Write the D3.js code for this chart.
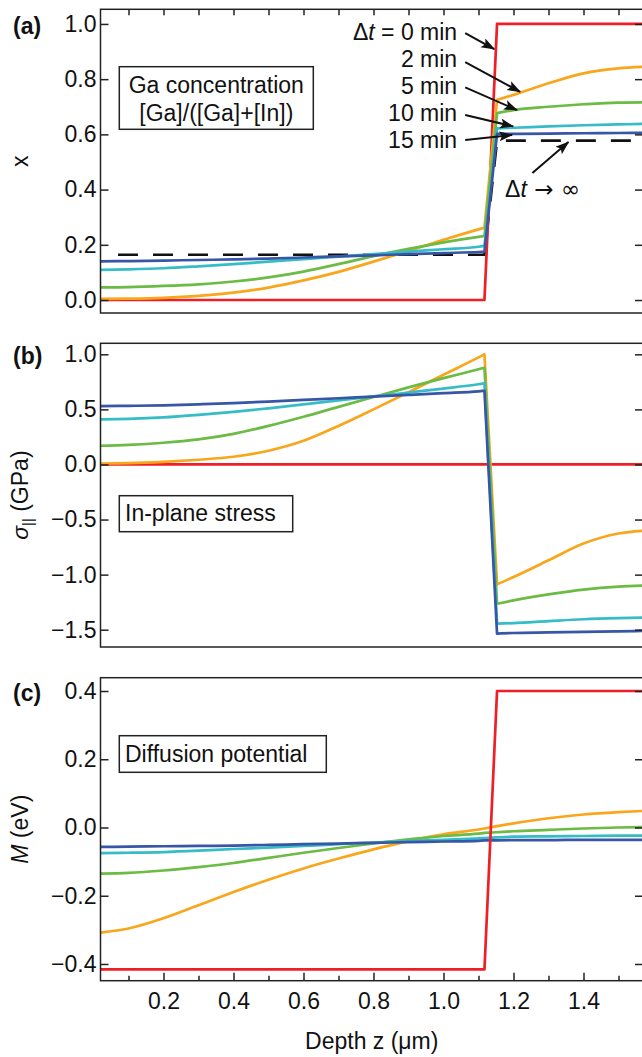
<!DOCTYPE html>
<html>
<head>
<meta charset="utf-8">
<title>Interdiffusion profiles</title>
<script src="https://d3js.org/d3.v7.min.js"></script>
<style>
  body { margin: 0; background: #fff; }
  svg text { font-family: "Liberation Sans", Arial, Helvetica, sans-serif; font-size: 23px; fill: #111; }
  .frame { fill: none; stroke: #222; stroke-width: 1.5; }
  .axis path { display: none; }
  .axis line { stroke: #222; stroke-width: 1.5; }
  .curve { fill: none; stroke-width: 2.7; stroke-linejoin: round; }
  .box rect { fill: #fff; stroke: #222; stroke-width: 1.5; }
  .arrow { stroke: #111; stroke-width: 2; }
</style>
</head>
<body>
<svg width="642" height="1057"></svg>
<script>
// depth grid in um; the interface sits between 1.117 and 1.153
var depth = [0.02, 0.1, 0.2, 0.3, 0.4, 0.5, 0.6, 0.7, 0.8, 0.9, 1.0, 1.1, 1.117, 1.153, 1.2, 1.3, 1.4, 1.5, 1.58];
var splitAt = 13;

// (a) Ga concentration x
var xT0  = [0,0,0,0,0,0,0,0,0,0,0,0,0, 1,1,1,1,1,1];
var xT2  = [0.004,0.005,0.008,0.015,0.027,0.045,0.071,0.102,0.139,0.178,0.218,0.256,0.262, 0.725,0.743,0.785,0.821,0.839,0.845];
var xT5  = [0.046,0.047,0.051,0.057,0.067,0.082,0.103,0.130,0.159,0.185,0.209,0.229,0.232, 0.677,0.688,0.700,0.709,0.715,0.716];
var xT10 = [0.109,0.111,0.115,0.122,0.130,0.139,0.148,0.157,0.166,0.175,0.184,0.193,0.196, 0.622,0.624,0.629,0.633,0.636,0.638];
var xT15 = [0.140,0.141,0.143,0.145,0.147,0.150,0.154,0.158,0.162,0.166,0.170,0.174,0.175, 0.602,0.602,0.603,0.604,0.605,0.606];
var depthInf = [0.07, 1.117, 1.153, 1.58];
var xInf = [0.164, 0.164, 0.577, 0.577];

// (b) in-plane stress, GPa
var sT0  = [0,0,0,0,0,0,0,0,0,0,0,0,0, 0,0,0,0,0,0];
var sT2  = [0.009,0.012,0.024,0.043,0.070,0.125,0.215,0.350,0.500,0.655,0.815,0.972,1.000, -1.088,-1.022,-0.870,-0.718,-0.627,-0.600];
var sT5  = [0.170,0.178,0.197,0.228,0.278,0.350,0.433,0.523,0.612,0.700,0.784,0.864,0.878, -1.264,-1.234,-1.180,-1.136,-1.109,-1.098];
var sT10 = [0.410,0.414,0.427,0.450,0.478,0.510,0.545,0.582,0.618,0.653,0.689,0.728,0.736, -1.445,-1.440,-1.422,-1.405,-1.395,-1.390];
var sT15 = [0.530,0.532,0.537,0.546,0.557,0.571,0.586,0.601,0.616,0.631,0.647,0.664,0.669, -1.535,-1.530,-1.525,-1.520,-1.515,-1.510];

// (c) diffusion potential M, eV
var mT0  = [-0.416,-0.416,-0.416,-0.416,-0.416,-0.416,-0.416,-0.416,-0.416,-0.416,-0.416,-0.416,-0.416, 0.400,0.400,0.400,0.400,0.400,0.400];
var mT2  = [-0.308,-0.296,-0.266,-0.228,-0.189,-0.153,-0.120,-0.091,-0.064,-0.040,-0.020,-0.006,-0.003, 0.004,0.012,0.027,0.038,0.045,0.049];
var mT5  = [-0.135,-0.133,-0.126,-0.116,-0.104,-0.089,-0.074,-0.060,-0.047,-0.035,-0.025,-0.018,-0.016, -0.014,-0.011,-0.007,-0.003,0.000,0.001];
var mT10 = [-0.075,-0.074,-0.072,-0.068,-0.063,-0.059,-0.054,-0.049,-0.044,-0.040,-0.036,-0.032,-0.031, -0.029,-0.027,-0.026,-0.025,-0.024,-0.024];
var mT15 = [-0.057,-0.056,-0.055,-0.054,-0.053,-0.051,-0.049,-0.047,-0.045,-0.043,-0.041,-0.039,-0.038, -0.038,-0.037,-0.037,-0.036,-0.036,-0.036];

var xTicksMajor = [0.2, 0.4, 0.6, 0.8, 1.0, 1.2, 1.4];
var xTicksMinor = [0.1, 0.3, 0.5, 0.7, 0.9, 1.1, 1.3, 1.5];
var timeLabels = ["0 min", "2 min", "5 min", "10 min", "15 min"];

var colors = ["#ee1f26", "#f9a61c", "#6bbb45", "#35bcc6", "#3856a6"];

var svg = d3.select("svg");
var left = 100.5, right = 643;

var x = d3.scaleLinear().domain([0.02, 1.57]).range([left, right]);

var panels = [
  { tag: "(a)", top: 9.3, bottom: 313, domain: [-0.047, 1.053], ticks: [0, 0.2, 0.4, 0.6, 0.8, 1.0],
    series: [xT0, xT2, xT5, xT10, xT15], redOnTop: false },
  { tag: "(b)", top: 343.3, bottom: 647, domain: [-1.657, 1.1], ticks: [-1.5, -1.0, -0.5, 0, 0.5, 1.0],
    series: [sT0, sT2, sT5, sT10, sT15], redOnTop: false },
  { tag: "(c)", top: 677.7, bottom: 980.7, domain: [-0.449, 0.439], ticks: [-0.4, -0.2, 0, 0.2, 0.4],
    series: [mT0, mT2, mT5, mT10, mT15], redOnTop: true }
];

var defs = svg.append("defs");
defs.append("marker")
    .attr("id", "head")
    .attr("markerUnits", "userSpaceOnUse")
    .attr("markerWidth", 16).attr("markerHeight", 12)
    .attr("refX", 13).attr("refY", 5)
    .attr("orient", "auto")
  .append("path")
    .attr("d", "M0,0 L14,5 L0,10 L3,5 Z")
    .attr("fill", "#111");

var fmt = d3.format(".1f");

panels.forEach(function(p, pi) {
  var y = d3.scaleLinear().domain(p.domain).range([p.bottom, p.top]);
  p.y = y;

  defs.append("clipPath").attr("id", "clip" + pi)
    .append("rect").attr("x", left).attr("y", p.top)
    .attr("width", right - left).attr("height", p.bottom - p.top);

  var g = svg.append("g");
  var plot = g.append("g").attr("clip-path", "url(#clip" + pi + ")");

  var mono = d3.line().x(function(d) { return x(d[0]); }).y(function(d) { return y(d[1]); })
    .curve(d3.curveMonotoneX);
  var straight = d3.line().x(function(d) { return x(d[0]); }).y(function(d) { return y(d[1]); });

  function pathFor(vals, smooth) {
    var pts = depth.map(function(z, i) { return [z, vals[i]]; });
    if (!smooth) return straight(pts);
    // smooth each side of the interface, straight jump between them
    return mono(pts.slice(0, splitAt)) + mono(pts.slice(splitAt)).replace(/^M/, "L");
  }

  if (pi === 0) {
    plot.append("path")
      .attr("class", "curve")
      .attr("d", straight(depthInf.map(function(z, i) { return [z, xInf[i]]; })))
      .attr("stroke", "#111")
      .attr("stroke-width", 2.6)
      .attr("stroke-dasharray", "20,15");
  }

  var order = p.redOnTop ? [1, 2, 3, 4, 0] : [0, 1, 2, 3, 4];
  order.forEach(function(si) {
    plot.append("path")
      .attr("class", "curve")
      .attr("d", pathFor(p.series[si], si !== 0))
      .attr("stroke", colors[si]);
  });

  g.append("rect").attr("class", "frame")
    .attr("x", left).attr("y", p.top)
    .attr("width", right - left).attr("height", p.bottom - p.top);

  g.append("g").attr("class", "axis")
    .attr("transform", "translate(" + left + ",0)")
    .call(d3.axisLeft(y).tickValues(p.ticks).tickSize(-8).tickSizeOuter(0).tickPadding(4).tickFormat(fmt))
    .selectAll("text").style("font-size", "23px").attr("fill", "#111");

  g.append("g").attr("class", "axis")
    .attr("transform", "translate(" + right + ",0)")
    .call(d3.axisRight(y).tickValues(p.ticks).tickSize(-8).tickSizeOuter(0).tickFormat(""));

  g.append("text")
    .attr("x", 13).attr("y", y(p.ticks[p.ticks.length - 1]) + 2)
    .attr("dominant-baseline", "central")
    .style("font-weight", "bold")
    .text(p.tag);
});

// top ticks on (a), bottom axis on (c)
svg.append("g").attr("class", "axis")
  .attr("transform", "translate(0," + panels[0].top + ")")
  .call(d3.axisTop(x).tickValues(xTicksMajor.concat(xTicksMinor)).tickSize(-6).tickSizeOuter(0).tickFormat(""));

svg.append("g").attr("class", "axis")
  .attr("transform", "translate(0," + panels[2].bottom + ")")
  .call(d3.axisBottom(x).tickValues(xTicksMinor).tickSize(-5).tickSizeOuter(0).tickFormat(""));

svg.append("g").attr("class", "axis")
  .attr("transform", "translate(0," + panels[2].bottom + ")")
  .call(d3.axisBottom(x).tickValues(xTicksMajor).tickSize(-8).tickSizeOuter(0).tickPadding(12).tickFormat(fmt))
  .selectAll("text").style("font-size", "23px").attr("fill", "#111");

// axis titles
svg.append("text")
  .attr("text-anchor", "middle")
  .attr("x", (left + right) / 2).attr("y", 1049)
  .text("Depth z (\u03bcm)");

function yTitle(p) {
  return svg.append("text")
    .attr("text-anchor", "middle")
    .attr("transform", "translate(28," + (p.top + p.bottom) / 2 + ") rotate(-90)");
}
yTitle(panels[0]).text("x");
var tb = yTitle(panels[1]);
tb.append("tspan").style("font-style", "italic").text("\u03c3");
tb.append("tspan").attr("dy", 5).style("font-size", "15px").text("||");
tb.append("tspan").attr("dy", -5).text(" (GPa)");
var tc = yTitle(panels[2]);
tc.append("tspan").style("font-style", "italic").text("M");
tc.append("tspan").text(" (eV)");

// boxed captions
var boxA = svg.append("g").attr("class", "box");
boxA.append("rect").attr("x", 119.3).attr("y", 66.7).attr("width", 194).attr("height", 62.6);
boxA.append("text").attr("x", 216.3).attr("y", 93.3).attr("text-anchor", "middle").text("Ga concentration");
boxA.append("text").attr("x", 216.3).attr("y", 121).attr("text-anchor", "middle").text("[Ga]/([Ga]+[In])");

var boxB = svg.append("g").attr("class", "box");
boxB.append("rect").attr("x", 119.3).attr("y", 495.7).attr("width", 173.4).attr("height", 36);
boxB.append("text").attr("x", 125).attr("y", 521).text("In-plane stress");

var boxC = svg.append("g").attr("class", "box");
boxC.append("rect").attr("x", 119.3).attr("y", 735.7).attr("width", 207).attr("height", 36.6);
boxC.append("text").attr("x", 125).attr("y", 761.5).text("Diffusion potential");

// time labels and arrows in (a), in data units
var ya = panels[0].y;
var labelZ = 1.039;
var labelX = [0.940, 0.844, 0.746, 0.647, 0.550];
var arrowFrom = [[1.062, 0.967], [1.062, 0.862], [1.062, 0.770], [1.062, 0.670], [1.062, 0.580], [1.254, 0.460]];
var arrowTo   = [[1.145, 0.909], [1.219, 0.754], [1.210, 0.688], [1.199, 0.629], [1.196, 0.598], [1.357, 0.572]];

timeLabels.forEach(function(t, i) {
  var txt = svg.append("text")
    .attr("x", x(labelZ)).attr("y", ya(labelX[i]))
    .attr("text-anchor", "end");
  if (i === 0) {
    txt.append("tspan").text("\u0394");
    txt.append("tspan").style("font-style", "italic").text("t");
    txt.append("tspan").text(" = " + t);
  } else {
    txt.text(t);
  }
});

var inf = svg.append("text").attr("x", x(1.176)).attr("y", ya(0.373));
inf.append("tspan").text("\u0394");
inf.append("tspan").style("font-style", "italic").text("t");
inf.append("tspan").style("font-family", "'DejaVu Sans', sans-serif").text(" \u2192 \u221e");

arrowFrom.forEach(function(a, i) {
  svg.append("line").attr("class", "arrow")
    .attr("x1", x(a[0])).attr("y1", ya(a[1]))
    .attr("x2", x(arrowTo[i][0])).attr("y2", ya(arrowTo[i][1]))
    .attr("marker-end", "url(#head)");
});
</script>
</body>
</html>
